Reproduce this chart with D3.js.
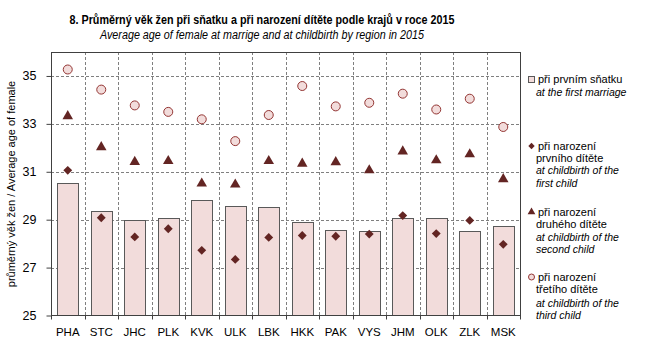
<!DOCTYPE html>
<html><head><meta charset="utf-8">
<script src="https://cdn.jsdelivr.net/npm/d3@7"></script>
<style>body{margin:0;background:#fff}svg{display:block}text{font-family:"Liberation Sans",Arial,sans-serif}</style>
</head><body>
<script>
const categories = ["PHA","STC","JHC","PLK","KVK","ULK","LBK","HKK","PAK","VYS","JHM","OLK","ZLK","MSK"];
const marriage = [30.55,29.38,29.00,29.09,29.84,29.59,29.51,28.91,28.55,28.51,29.09,29.05,28.51,28.73];
const firstChild = [31.06,29.08,28.28,28.62,27.72,27.34,28.26,28.34,28.31,28.40,29.17,28.42,28.97,27.97];
const secondChild = [33.32,32.03,31.41,31.45,30.51,30.47,31.45,31.34,31.40,31.06,31.85,31.48,31.73,30.69];
const thirdChild = [35.27,34.43,33.77,33.50,33.19,32.28,33.37,34.58,33.73,33.88,34.26,33.60,34.05,32.87];
const yTicks = [25,27,29,31,33,35];

const W=645,H=344;
const m={l:51,r:125,t:52,b:28.5};
const svg=d3.select("body").append("svg").attr("width",W).attr("height",H);
const x=d3.scaleBand().domain(categories).range([m.l,W-m.r]).padding(0);
const y=d3.scaleLinear().domain([25,36]).range([315.5,52]);
const bw=x.bandwidth()*0.62;
const dark="#632523", pink="#f2dcdb", gridC="#7f7f7f", axisC="#404040";

// title
svg.append("text").attr("x",262).attr("y",24).attr("text-anchor","middle")
  .attr("font-size",13.5).attr("font-weight","bold").attr("textLength",385).attr("lengthAdjust","spacingAndGlyphs")
  .text("8. Průměrný věk žen při sňatku a při narození dítěte podle krajů v roce 2015");
svg.append("text").attr("x",262).attr("y",39).attr("text-anchor","middle")
  .attr("font-size",12.5).attr("font-style","italic").attr("textLength",324).attr("lengthAdjust","spacingAndGlyphs")
  .text("Average age of female at marrige and at childbirth by region in 2015");

// gridlines
const g=svg.append("g");
g.selectAll("line.h").data(yTicks.filter(d=>d>25)).join("line")
  .attr("x1",m.l).attr("x2",W-m.r).attr("y1",d=>Math.round(y(d))+0.5).attr("y2",d=>Math.round(y(d))+0.5)
  .attr("stroke",gridC).attr("stroke-dasharray","3,2");
g.selectAll("line.v").data(categories.slice(1)).join("line")
  .attr("x1",d=>Math.round(x(d))+0.5).attr("x2",d=>Math.round(x(d))+0.5).attr("y1",52).attr("y2",y(25))
  .attr("stroke",gridC).attr("stroke-dasharray","3,2");

// bars
svg.append("g").selectAll("rect").data(categories).join("rect")
  .attr("x",(d)=>Math.round(x(d)+x.bandwidth()/2-bw/2)+0.5)
  .attr("width",Math.round(bw))
  .attr("y",(d,i)=>Math.round(y(marriage[i]))+0.5)
  .attr("height",(d,i)=>y(25)-Math.round(y(marriage[i]))-0.5)
  .attr("fill",pink).attr("stroke","#595959").attr("stroke-width",1);

// frame / axes
svg.append("rect").attr("x",m.l+0.5).attr("y",52.5).attr("width",W-m.r-m.l).attr("height",y(25)-52.5)
  .attr("fill","none").attr("stroke",axisC);
const ya=svg.append("g").attr("transform",`translate(${m.l+0.5},0)`)
  .call(d3.axisLeft(y).tickValues(yTicks).tickSize(5).tickPadding(10).tickSizeOuter(0));
ya.select(".domain").remove();
ya.selectAll("line").attr("stroke",axisC);
ya.selectAll("text").attr("font-size",12.5).attr("fill","#000").attr("font-family","Liberation Sans, Arial");
// bottom
const xb=svg.append("g").attr("transform",`translate(0,${y(25)})`)
  .call(d3.axisBottom(x).tickSize(0).tickPadding(12));
xb.select(".domain").remove();
xb.selectAll("text").attr("font-size",11.5).attr("fill","#000").attr("font-family","Liberation Sans, Arial");
svg.append("g").selectAll("line").data(categories.map(c=>x(c)).concat([W-m.r])).join("line")
  .attr("x1",d=>Math.round(d)+0.5).attr("x2",d=>Math.round(d)+0.5).attr("y1",y(25)).attr("y2",y(25)+4)
  .attr("stroke",axisC);

// y title
svg.append("text").attr("transform",`translate(15,${184}) rotate(-90)`).attr("text-anchor","middle")
  .attr("font-size",11).text("průměrný věk žen / Average age of female");

const cx=d=>x(d)+x.bandwidth()/2;
const diamond=d3.symbol().type(d3.symbolDiamond2).size(50);
const tri=d3.symbol().type(d3.symbolTriangle).size(48);
// markers
svg.append("g").selectAll("path").data(categories).join("path")
  .attr("d",diamond).attr("transform",(d,i)=>`translate(${cx(d)},${y(firstChild[i])})`).attr("fill",dark);
svg.append("g").selectAll("path").data(categories).join("path")
  .attr("d",tri).attr("transform",(d,i)=>`translate(${cx(d)},${y(secondChild[i])})`).attr("fill",dark);
svg.append("g").selectAll("circle").data(categories).join("circle")
  .attr("cx",cx).attr("cy",(d,i)=>y(thirdChild[i])).attr("r",4.5)
  .attr("fill",pink).attr("stroke","#943634").attr("stroke-width",1);

// legend
const L=svg.append("g");
const lx=531;
L.append("rect").attr("x",lx-2.5).attr("y",76.5).attr("width",6).attr("height",6).attr("fill",pink).attr("stroke","#595959");
L.append("path").attr("d",d3.symbol().type(d3.symbolDiamond2).size(26)).attr("transform",`translate(${lx+0.5},146)`).attr("fill",dark);
L.append("path").attr("d",d3.symbol().type(d3.symbolTriangle).size(26)).attr("transform",`translate(${lx+0.5},212)`).attr("fill",dark);
L.append("circle").attr("cx",lx+0.5).attr("cy",277).attr("r",3).attr("fill",pink).attr("stroke","#943634");
const lines=[
 [538,83,"při prvním sňatku",false],[536,96,"at the first marriage",true],
 [538,150,"při narození",false],[536,162,"prvního dítěte",false],[536,174,"at childbirth of the",true],[536,186.5,"first child",true],
 [538,216,"při narození",false],[536,228,"druhého dítěte",false],[536,241,"at childbirth of the",true],[536,253,"second child",true],
 [538,281,"při narození",false],[536,293,"třetího dítěte",false],[536,307,"at childbirth of the",true],[536,319,"third child",true]
];
L.selectAll("text").data(lines).join("text").attr("x",d=>d[0]).attr("y",d=>d[1])
  .attr("font-size",d=>d[3]?10.5:11).attr("font-style",d=>d[3]?"italic":"normal").text(d=>d[2]);
</script>
</body></html>
